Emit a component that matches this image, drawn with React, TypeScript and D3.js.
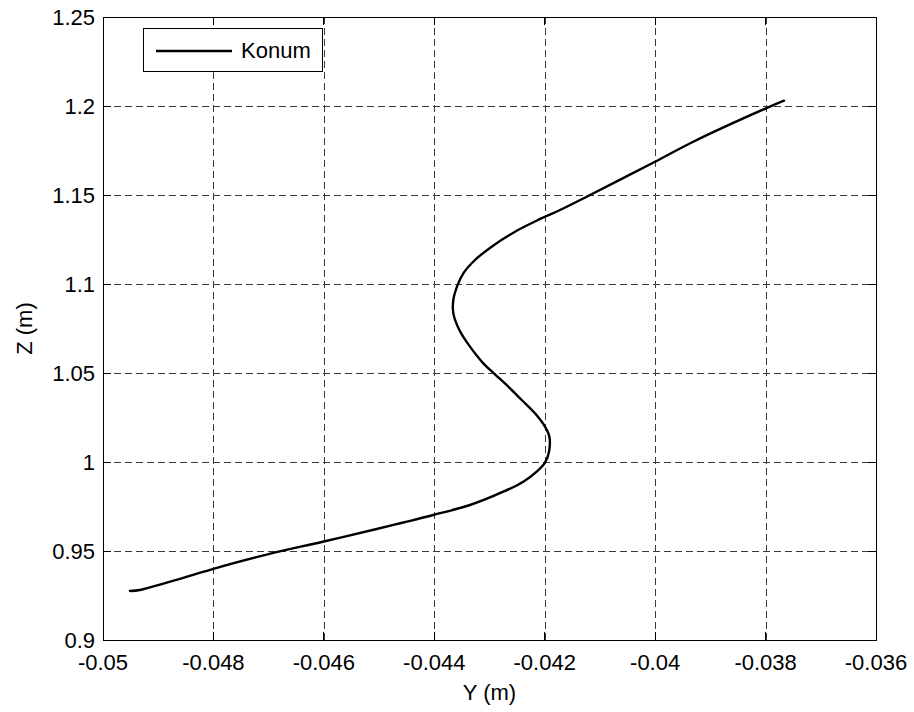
import React from "react";
import * as d3 from "d3";

// Trajectory samples: horizontal position Y (m) and height Z (m)
const yPos: number[] = [
  -0.049511, -0.04933, -0.048846, -0.048031, -0.047035, -0.046021, -0.045043,
  -0.044561, -0.044018, -0.043353, -0.04275, -0.042388, -0.042145, -0.041995,
  -0.041922, -0.041916, -0.041995, -0.042176, -0.042417, -0.042659, -0.0429,
  -0.043112, -0.043353, -0.043546, -0.043655, -0.043655, -0.043582, -0.043474,
  -0.043263, -0.042961, -0.042538, -0.04214, -0.041723, -0.04124, -0.040002,
  -0.039309, -0.037992, -0.037666,
];
const zPos: number[] = [
  0.92753, 0.92809, 0.93219, 0.93973, 0.948, 0.95522, 0.96235,
  0.966, 0.97022, 0.97584, 0.98331, 0.98894, 0.99455, 0.99961,
  1.00579, 1.01423, 1.01985, 1.02734, 1.03483, 1.04232, 1.04925,
  1.05543, 1.06479, 1.07416, 1.08352, 1.09101, 1.09906, 1.106,
  1.11348, 1.12097, 1.1294, 1.13567, 1.14157, 1.14904, 1.16871,
  1.17994, 1.19871, 1.20298,
];

const xTicks: number[] = [-0.05, -0.048, -0.046, -0.044, -0.042, -0.04, -0.038, -0.036];
const xTickLabels: string[] = ["-0.05", "-0.048", "-0.046", "-0.044", "-0.042", "-0.04", "-0.038", "-0.036"];
const zTicks: number[] = [0.9, 0.95, 1.0, 1.05, 1.1, 1.15, 1.2, 1.25];
const zTickLabels: string[] = ["0.9", "0.95", "1", "1.05", "1.1", "1.15", "1.2", "1.25"];

const seriesName = "Konum";
const xLabel = "Y (m)";
const yLabel = "Z (m)";

const W = 914;
const H = 712;
const left = 103;
const right = 876;
const top = 17;
const bottom = 640;
const FONT = "'Liberation Sans', Arial, Helvetica, sans-serif";
const FS = 22;
const TICK = 8;

export default function App() {
  const x = d3.scaleLinear().domain([-0.05, -0.036]).range([left, right]);
  const y = d3.scaleLinear().domain([0.9, 1.25]).range([bottom, top]);

  const pts: [number, number][] = yPos.map((v, i) => [v, zPos[i]]);
  const line = d3
    .line<[number, number]>()
    .x((d) => x(d[0]))
    .y((d) => y(d[1]))
    .curve(d3.curveCatmullRom.alpha(0.5));

  const gridColor = "#3a3a3a";

  return (
    <svg
      width={W}
      height={H}
      style={{ position: "absolute", left: 0, top: 0, background: "#fff" }}
      fontFamily={FONT}
    >
      <rect x={0} y={0} width={W} height={H} fill="#fff" />
      {/* grid */}
      <g stroke={gridColor} strokeWidth={1} strokeDasharray="7,4" shapeRendering="crispEdges">
        {xTicks.slice(1, -1).map((t) => (
          <line key={"gx" + t} x1={Math.round(x(t)) + 0.5} x2={Math.round(x(t)) + 0.5} y1={top} y2={bottom} />
        ))}
        {zTicks.slice(1, -1).map((t) => (
          <line key={"gy" + t} x1={left} x2={right} y1={Math.round(y(t)) + 0.5} y2={Math.round(y(t)) + 0.5} />
        ))}
      </g>
      {/* ticks on all sides, pointing inward */}
      <g stroke="#000" strokeWidth={1} shapeRendering="crispEdges">
        {xTicks.map((t) => (
          <g key={"tx" + t}>
            <line x1={x(t)} x2={x(t)} y1={bottom} y2={bottom - TICK} />
            <line x1={x(t)} x2={x(t)} y1={top} y2={top + TICK} />
          </g>
        ))}
        {zTicks.map((t) => (
          <g key={"ty" + t}>
            <line x1={left} x2={left + TICK} y1={y(t)} y2={y(t)} />
            <line x1={right} x2={right - TICK} y1={y(t)} y2={y(t)} />
          </g>
        ))}
      </g>
      {/* trajectory */}
      <path d={line(pts) || ""} fill="none" stroke="#000" strokeWidth={2.4} strokeLinejoin="round" strokeLinecap="round" />
      {/* frame */}
      <rect
        x={left + 0.5}
        y={top + 0.5}
        width={right - left}
        height={bottom - top}
        fill="none"
        stroke="#000"
        strokeWidth={1}
        shapeRendering="crispEdges"
      />
      {/* tick labels */}
      <g fontSize={FS} fill="#000">
        {xTicks.map((t, i) => (
          <text key={"lx" + t} x={x(t)} y={670} textAnchor="middle">
            {xTickLabels[i]}
          </text>
        ))}
        {zTicks.map((t, i) => (
          <text key={"ly" + t} x={95} y={y(t)} dy="0.36em" textAnchor="end">
            {zTickLabels[i]}
          </text>
        ))}
      </g>
      {/* axis titles */}
      <text x={(left + right) / 2} y={700} textAnchor="middle" fontSize={FS}>
        {xLabel}
      </text>
      <text
        transform={`translate(32, ${(top + bottom) / 2}) rotate(-90)`}
        textAnchor="middle"
        fontSize={FS}
      >
        {yLabel}
      </text>
      {/* legend */}
      <g>
        <rect x={143.5} y={28.5} width={179} height={43} fill="#fff" stroke="#000" strokeWidth={1} shapeRendering="crispEdges" />
        <line x1={156} x2={232} y1={51} y2={51} stroke="#000" strokeWidth={2.4} />
        <text x={241} y={58} fontSize={FS}>
          {seriesName}
        </text>
      </g>
    </svg>
  );
}
